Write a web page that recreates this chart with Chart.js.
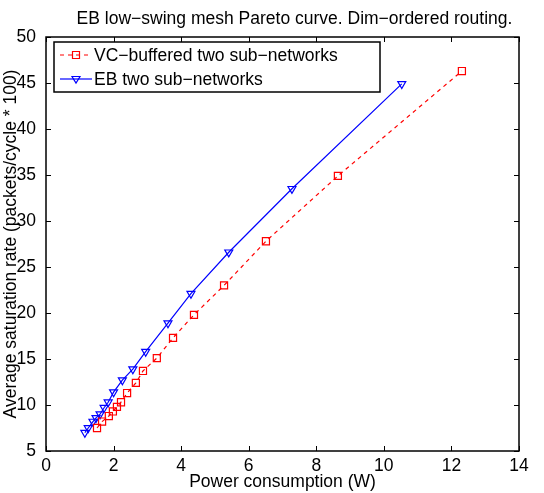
<!DOCTYPE html>
<html>
<head>
<meta charset="utf-8">
<script src="https://cdn.jsdelivr.net/npm/chart.js@4.4.1/dist/chart.umd.min.js"></script>
<style>
    html, body { margin: 0; padding: 0; background: #fff; }
    #wrap { width: 544px; height: 493px; }
</style>
</head>
<body>
<div id="wrap"><canvas id="chart" width="544" height="493"></canvas></div>
<script>
// data
const chartTitle = "EB low\u2212swing mesh Pareto curve. Dim\u2212ordered routing.";
const seriesNames = ["VC\u2212buffered two sub\u2212networks", "EB two sub\u2212networks"];

const powerVC = [1.51, 1.66, 1.86, 1.98, 2.10, 2.22, 2.40, 2.66, 2.87, 3.28, 3.76, 4.38, 5.27, 6.51, 8.64, 12.31];
const rateVC  = [7.5, 8.2, 8.8, 9.3, 9.8, 10.3, 11.3, 12.4, 13.7, 15.1, 17.3, 19.8, 23.0, 27.8, 34.9, 46.3];

const powerEB = [1.15, 1.25, 1.39, 1.48, 1.60, 1.72, 1.84, 2.00, 2.26, 2.57, 2.95, 3.61, 4.29, 5.41, 7.28, 10.53];
const rateEB  = [7.0, 7.5, 8.2, 8.6, 9.0, 9.7, 10.3, 11.4, 12.7, 13.9, 15.8, 18.9, 22.1, 26.6, 33.5, 44.9];

const xTicks = [0, 2, 4, 6, 8, 10, 12, 14];
const yTicks = [5, 10, 15, 20, 25, 30, 35, 40, 45, 50];

const FONT = '"Liberation Sans", Arial, Helvetica, sans-serif';
const FS = 17.5;

const toPoints = (xs, ys) => xs.map((x, i) => ({ x, y: ys[i] }));

// matlab style box + inward ticks
const boxPlugin = {
    id: 'box',
    afterDatasetsDraw(chart) {
        const { ctx, chartArea: a, scales } = chart;
        ctx.save();
        ctx.strokeStyle = '#000';
        ctx.lineWidth = 1;
        ctx.beginPath();
        xTicks.forEach(v => {
            const px = Math.round(scales.x.getPixelForValue(v)) + 0.5;
            ctx.moveTo(px, a.bottom); ctx.lineTo(px, a.bottom - 5);
            ctx.moveTo(px, a.top); ctx.lineTo(px, a.top + 5);
        });
        yTicks.forEach(v => {
            const py = Math.round(scales.y.getPixelForValue(v)) + 0.5;
            ctx.moveTo(a.left, py); ctx.lineTo(a.left + 5, py);
            ctx.moveTo(a.right, py); ctx.lineTo(a.right - 5, py);
        });
        ctx.stroke();
        ctx.lineWidth = 1.5;
        ctx.strokeRect(a.left, a.top, a.right - a.left, a.bottom - a.top);

        // title
        ctx.fillStyle = '#000';
        ctx.font = FS + 'px ' + FONT;
        ctx.textAlign = 'center';
        ctx.textBaseline = 'middle';
        ctx.fillText(chartTitle, (a.left + a.right) / 2 + 12, 19);
        ctx.restore();
    }
};

// legend drawn inside the plot, upper left
const legendPlugin = {
    id: 'boxLegend',
    afterDraw(chart) {
        const { ctx, chartArea: a } = chart;
        const x0 = a.left + 8, y0 = a.top + 5, w = 326, h = 50;
        ctx.save();
        ctx.fillStyle = '#fff';
        ctx.fillRect(x0, y0, w, h);
        ctx.strokeStyle = '#000';
        ctx.lineWidth = 1.5;
        ctx.strokeRect(x0, y0, w, h);

        const rows = [
            { y: y0 + 13, color: '#ff0000', dash: [4, 4], marker: 'square' },
            { y: y0 + 37, color: '#0000ff', dash: [], marker: 'triangle' },
        ];
        rows.forEach((r, i) => {
            ctx.strokeStyle = r.color;
            ctx.lineWidth = 1.2;
            ctx.setLineDash(r.dash);
            ctx.beginPath();
            ctx.moveTo(x0 + 6, r.y);
            ctx.lineTo(x0 + 38, r.y);
            ctx.stroke();
            ctx.setLineDash([]);
            const mx = x0 + 22;
            ctx.beginPath();
            if (r.marker === 'square') {
                ctx.rect(mx - 3.5, r.y - 3.5, 7, 7);
            } else {
                ctx.moveTo(mx - 4, r.y - 2.5);
                ctx.lineTo(mx + 4, r.y - 2.5);
                ctx.lineTo(mx, r.y + 4);
                ctx.closePath();
            }
            ctx.stroke();

            ctx.fillStyle = '#000';
            ctx.font = FS + 'px ' + FONT;
            ctx.textAlign = 'left';
            ctx.textBaseline = 'middle';
            ctx.fillText(seriesNames[i], x0 + 40, r.y + 1);
        });
        ctx.restore();
    }
};

const config = {
    type: 'scatter',
    data: {
        datasets: [
            {
                label: seriesNames[0],
                data: toPoints(powerVC, rateVC),
                showLine: true,
                borderColor: '#ff0000',
                borderWidth: 1.2,
                borderDash: [4, 4],
                pointStyle: 'rect',
                pointRadius: 5,
                pointBorderWidth: 1.2,
                pointBorderColor: '#ff0000',
                pointBackgroundColor: 'rgba(0,0,0,0)',
            },
            {
                label: seriesNames[1],
                data: toPoints(powerEB, rateEB),
                showLine: true,
                borderColor: '#0000ff',
                borderWidth: 1.2,
                pointStyle: 'triangle',
                rotation: 180,
                pointRadius: 4.6,
                pointBorderWidth: 1.2,
                pointBorderColor: '#0000ff',
                pointBackgroundColor: 'rgba(0,0,0,0)',
            },
        ],
    },
    options: {
        responsive: false,
        maintainAspectRatio: false,
        animation: false,
        layout: { padding: { top: 37, right: 25, left: 0, bottom: 0 } },
        plugins: {
            legend: { display: false },
            tooltip: { enabled: false },
        },
        scales: {
            x: {
                type: 'linear',
                min: 0,
                max: 14,
                afterFit: (s) => { s.height = 42; },
                afterBuildTicks: (s) => { s.ticks = xTicks.map(v => ({ value: v })); },
                grid: { display: false },
                border: { display: false },
                ticks: { color: '#000', font: { size: FS, family: FONT }, padding: -3, maxRotation: 0 },
                title: {
                    display: true,
                    text: 'Power consumption (W)',
                    color: '#000',
                    font: { size: FS, family: FONT },
                    padding: { top: 0, bottom: 0 },
                },
            },
            y: {
                type: 'linear',
                min: 5,
                max: 50,
                afterFit: (s) => { s.width = 46; },
                afterBuildTicks: (s) => { s.ticks = yTicks.map(v => ({ value: v })); },
                grid: { display: false },
                border: { display: false },
                ticks: { color: '#000', font: { size: FS, family: FONT }, padding: 2 },
                title: {
                    display: true,
                    text: 'Average saturation rate (packets/cycle * 100)',
                    color: '#000',
                    font: { size: FS, family: FONT },
                    padding: { top: 1, bottom: 0 },
                },
            },
        },
    },
    plugins: [boxPlugin, legendPlugin],
};

new Chart(document.getElementById('chart'), config);
</script>
</body>
</html>
